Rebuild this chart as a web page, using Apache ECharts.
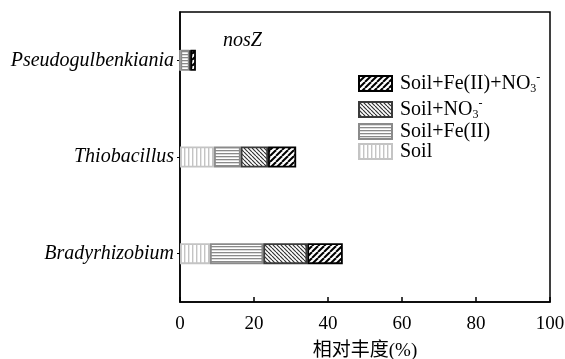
<!DOCTYPE html>
<html>
<head>
<meta charset="utf-8">
<script src="https://cdn.jsdelivr.net/npm/echarts@6/dist/echarts.min.js"></script>
<style>html,body{margin:0;padding:0;background:#fff}#c{width:565px;height:359px}</style>
</head>
<body>
<div id="c"></div>
<script>
const categories = ['Pseudogulbenkiania', 'Thiobacillus', 'Bradyrhizobium'];
const seriesNames = ['Soil', 'Soil+Fe(II)', 'Soil+NO3-', 'Soil+Fe(II)+NO3-'];
const soil = [0.1, 9.2, 8.1];
const soilFe = [2.5, 7.2, 14.4];
const soilNO3 = [0.2, 7.4, 11.9];
const soilFeNO3 = [1.5, 7.6, 9.6];
const xTicks = [0, 20, 40, 60, 80, 100];

function pattern(kind) {
  const c = document.createElement('canvas');
  const ctx = c.getContext('2d');
  if (kind === 'v') {
    c.width = 4; c.height = 4;
    ctx.fillStyle = '#fff'; ctx.fillRect(0, 0, 4, 4);
    ctx.fillStyle = '#c4c4c4'; ctx.fillRect(0, 0, 1.4, 4);
  } else if (kind === 'h') {
    c.width = 3; c.height = 3;
    ctx.fillStyle = '#fff'; ctx.fillRect(0, 0, 3, 3);
    ctx.fillStyle = '#8a8a8a'; ctx.fillRect(0, 0, 3, 1.3);
  } else if (kind === 'b') {
    const s = 4;
    c.width = s; c.height = s;
    ctx.fillStyle = '#fff'; ctx.fillRect(0, 0, s, s);
    ctx.strokeStyle = '#333'; ctx.lineWidth = 1.2;
    for (const o of [-s, 0, s]) {
      ctx.beginPath(); ctx.moveTo(o, 0); ctx.lineTo(o + s, s); ctx.stroke();
    }
  } else {
    const s = 6;
    c.width = s; c.height = s;
    ctx.fillStyle = '#fff'; ctx.fillRect(0, 0, s, s);
    ctx.strokeStyle = '#000'; ctx.lineWidth = 2;
    for (const o of [-s, 0, s]) {
      ctx.beginPath(); ctx.moveTo(o, s); ctx.lineTo(o + s, 0); ctx.stroke();
    }
  }
  return { image: c, repeat: 'repeat' };
}

const styles = [
  { fill: pattern('v'), border: '#c4c4c4' },
  { fill: pattern('h'), border: '#8a8a8a' },
  { fill: pattern('b'), border: '#3a3a3a' },
  { fill: pattern('f'), border: '#000' }
];
const dataSets = [soil, soilFe, soilNO3, soilFeNO3];
const serif = "'Liberation Serif', 'Times New Roman', serif";

// legend rows, top to bottom: Soil+Fe(II)+NO3-, Soil+NO3-, Soil+Fe(II), Soil
const legendCenters = { 'Soil+Fe(II)+NO3-': 83, 'Soil+NO3-': 109, 'Soil+Fe(II)': 132.5, 'Soil': 152.5 };
const legendLabels = {
  'Soil': 'Soil',
  'Soil+Fe(II)': 'Soil+Fe(II)',
  'Soil+NO3-': 'Soil+NO{sub|3}{sup|-}',
  'Soil+Fe(II)+NO3-': 'Soil+Fe(II)+NO{sub|3}{sup|-}'
};

const legends = seriesNames.map((n) => ({
  data: [n],
  left: 358,
  top: legendCenters[n] - 11,
  padding: 0,
  icon: 'rect',
  itemWidth: 33,
  itemHeight: 15,
  selectedMode: false,
  formatter: (name) => legendLabels[name],
  textStyle: {
    fontFamily: serif, fontSize: 20, color: '#000', padding: [0, 0, 0, 3],
    rich: {
      sub: { fontFamily: serif, fontSize: 12, color: '#000', padding: [11, 0, 0, 0] },
      sup: { fontFamily: serif, fontSize: 12, color: '#000', padding: [0, 0, 11, 0] }
    }
  }
}));

const chart = echarts.init(document.getElementById('c'), null, { renderer: 'canvas' });
chart.setOption({
  animation: false,
  backgroundColor: '#fff',
  grid: { left: 180, right: 15, top: 12, bottom: 57, outerBoundsMode: 'none', containLabel: false, show: true, borderColor: '#000', borderWidth: 1.5, backgroundColor: 'transparent' },
  legend: legends,
  graphic: [{
    type: 'text', left: 223, top: 31,
    style: { text: 'nosZ', font: "italic 20px 'Liberation Serif'", fill: '#000' }
  }],
  xAxis: {
    type: 'value', min: xTicks[0], max: xTicks[xTicks.length - 1], interval: 20,
    name: '相对丰度(%)', nameLocation: 'middle', nameGap: 40,
    nameTextStyle: { fontFamily: "'Liberation Serif', 'Noto Sans CJK SC'", fontSize: 19, color: '#000' },
    axisLine: { show: true, lineStyle: { color: '#000', width: 1.5 } },
    axisTick: { show: true, inside: true, length: 5, lineStyle: { color: '#000', width: 1.5 } },
    axisLabel: { fontFamily: serif, fontSize: 19, color: '#000', margin: 13 },
    splitLine: { show: false }
  },
  yAxis: {
    type: 'category', data: categories, inverse: true,
    axisLine: { show: true, lineStyle: { color: '#000', width: 1.5 } },
    axisTick: { show: true, length: 3, alignWithLabel: true, lineStyle: { color: '#000' } },
    axisLabel: { fontFamily: serif, fontStyle: 'italic', fontSize: 20, color: '#000', margin: 6 }
  },
  series: seriesNames.map((n, i) => ({
    name: n, type: 'bar', stack: 'total', barWidth: 21,
    data: dataSets[i],
    itemStyle: { color: styles[i].fill, borderColor: styles[i].border, borderWidth: 1.8 }
  }))
});
</script>
</body>
</html>
